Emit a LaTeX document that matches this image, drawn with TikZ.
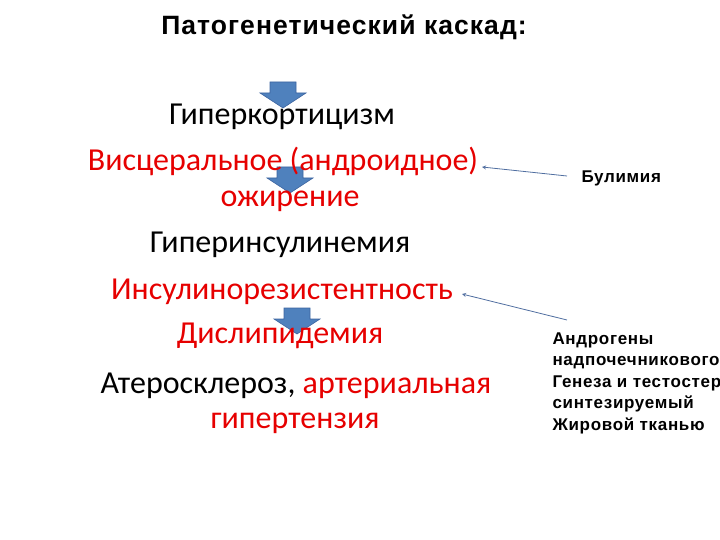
\documentclass[tikz,border=0pt]{standalone}
\usepackage{fontspec}
\setmainfont{Carlito}
\newfontfamily\arial[LetterSpace=4]{Liberation Sans}
\begin{document}
\begin{tikzpicture}[x=1pt,y=-1pt,
 big/.style={font=\fontsize{32}{36}\selectfont},
 red/.style={text={rgb,255:red,230;green,0;blue,0}},
 side/.style={font=\arial\bfseries\fontsize{17}{21.5}\selectfont,align=left,anchor=north west},
 blk/.style={draw={rgb,255:red,60;green,100;blue,160},fill={rgb,255:red,79;green,129;blue,189},line width=0.6pt},
 con/.style={draw={rgb,255:red,80;green,110;blue,160},line width=0.8pt,-stealth}]
\useasboundingbox (0,0) rectangle (720,540);
\node (t) at (344,27) {\arial\bfseries\fontsize{26.5}{30}\selectfont Патогенетический каскад:};
\foreach \n/\x/\y in {a1/283/82,a2/290/167,a3/297/308}{
 \coordinate (\n) at (\x,\y);
 \path[blk] (\n) ++(-13,0) -- ++(26,0) -- ++(0,11) -- ++(10,0) -- ++(-23,15) -- ++(-23,-15) -- ++(10,0) -- cycle;
}
\node[big] (l1) at (282,117) {Гиперкортицизм};
\node[big,red] (l2) at (283,161) {Висцеральное (андроидное)};
\node[big,red] (l3) at (290,201) {ожирение};
\node[big] (l4) at (280,245) {Гиперинсулинемия};
\node[big,red] (l5) at (282,292) {Инсулинорезистентность};
\node[big,red] (l6) at (280,336) {Дислипидемия};
\node[big] (l7) at (296,386) {Атеросклероз, \textcolor[RGB]{230,0,0}{артериальная}};
\node[big,red] (l8) at (295,423) {гипертензия};
\node[side,anchor=west] (b) at (578,178) {Булимия};
\node[side] (g) at (549,329) {Андрогены\\надпочечникового\\Генеза и тестостер\\синтезируемый\\Жировой тканью};
\coordinate (p1) at (567,176);
\coordinate (q1) at (482,167);
\coordinate (p2) at (567,320);
\coordinate (q2) at (462,294);
\draw[con] (p1) -- (q1);
\draw[con] (p2) -- (q2);
\end{tikzpicture}
\end{document}
